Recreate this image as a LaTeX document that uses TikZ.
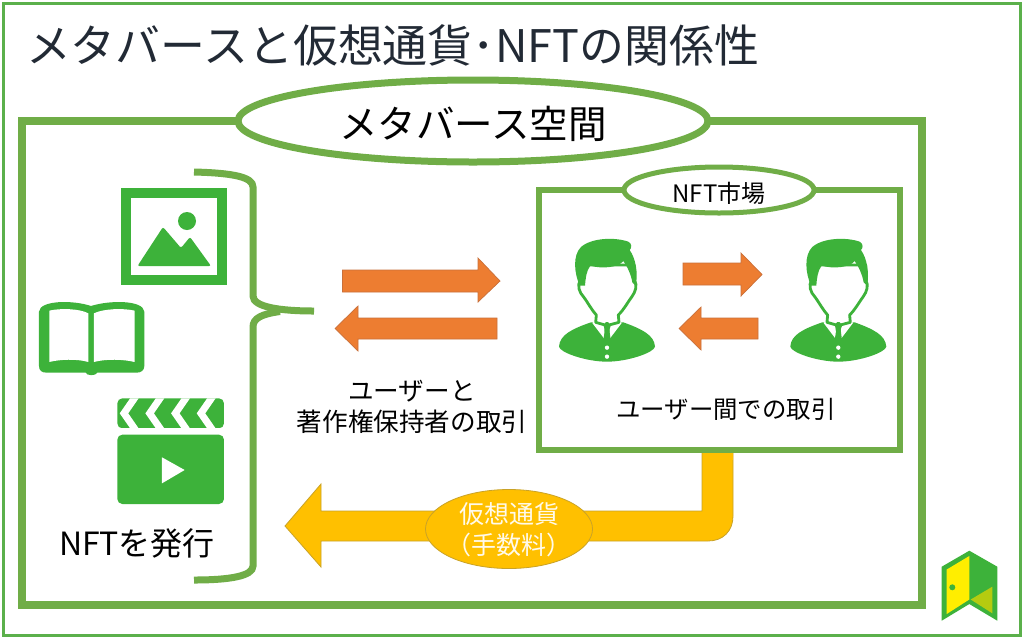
\documentclass[tikz,border=0pt]{standalone}
\usepackage{fontspec}
\setmainfont{Noto Sans CJK JP}
\usetikzlibrary{shapes.geometric}
\definecolor{frameg}{HTML}{70AD47}
\definecolor{outerg}{HTML}{5BB04B}
\definecolor{icong}{HTML}{3DB23A}
\definecolor{orangeA}{HTML}{ED7D31}
\definecolor{orangeB}{HTML}{C9703A}
\definecolor{goldA}{HTML}{FFC000}
\definecolor{goldB}{HTML}{C9A227}
\definecolor{inkA}{HTML}{222A35}
\definecolor{doorY}{HTML}{FFEE00}
\definecolor{doorO}{HTML}{B5CB10}
\tikzset{
  framebox/.style={draw=frameg,line width=#1,miter limit=10},
  ringnode/.style={ellipse,draw=frameg,fill=white,inner sep=0pt,text=black},
  blockarrow/.style={fill=orangeA,draw=orangeB,line width=.7pt,line join=miter},
  goldshape/.style={fill=goldA,draw=goldB,line width=.8pt},
  iconfill/.style={fill=icong,draw=none},
  paper/.style={fill=white,draw=none},
  txt/.style={inner sep=0pt,align=center,text=black},
}
\begin{document}
\begin{tikzpicture}[x=1pt,y=-1pt]
\useasboundingbox (0,0) rectangle (1024,638);
\fill[white] (0,0) rectangle (1024,638);
% outer frame
\draw[draw=outerg,line width=3pt] (3.5,3) rectangle (1020.5,635);
% title
\node[txt,anchor=center,text=inkA,font=\fontsize{44.9}{48}\selectfont] (title) at (392.5,45) {メタバースと仮想通貨･NFTの関係性};
% main frame
\draw[framebox=8pt] (22,121) rectangle (922,605);
\node[ringnode,line width=7pt,minimum width=470pt,minimum height=82pt] (metaring) at (473,121) {};
\node[txt,font=\fontsize{38.5}{42}\selectfont] (metalabel) at (473,124) {メタバース空間};
% brace
\draw[draw=frameg,line width=7pt] (194,172) .. controls (233,173) and (253,177) .. (253,187) -- (253,296) .. controls (253,307) and (280,311) .. (314,311);
\draw[draw=frameg,line width=7pt] (280,311.5) .. controls (262,314) and (253,318) .. (253,327) -- (253,566) .. controls (253,576) and (230,580) .. (194,580);
% picture icon
\draw[draw=icong,line width=10pt,fill=white] (126,193) rectangle (221.5,280);
\fill[iconfill] (187,221) circle (9pt);
\fill[iconfill,rounded corners=2pt] (137.5,266) -- (163,227) -- (181,248) -- (190,237) -- (211,266) -- cycle;
% book icon
\begin{scope}[shift={(20,160)},x=.3333pt,y=-.3333pt]
\fill[iconfill] (57,455) .. controls (60,420) and (160,420) .. (213,438) .. controls (270,420) and (370,420) .. (373,455) -- (373,618) .. controls (373,632) and (362,638) .. (350,638) -- (232,638) .. controls (228,648) and (200,648) .. (197,638) -- (80,638) .. controls (66,638) and (57,632) .. (57,618) -- cycle;
\fill[paper] (88,452) .. controls (120,444) and (180,446) .. (205,460) -- (205,606) .. controls (170,596) and (120,598) .. (88,606) -- cycle;
\fill[paper] (222,460) .. controls (250,446) and (310,444) .. (344,452) -- (344,606) .. controls (310,598) and (260,596) .. (222,606) -- cycle;
\end{scope}
% clapper icon
\begin{scope}[shift={(100,390)},x=.3333pt,y=-.3333pt]
\begin{scope}
\clip[rounded corners=5pt] (52,25) rectangle (372,115);
\fill[iconfill] (52,25) rectangle (372,115);
\foreach \cx in {72,149,226,303}
  \draw[draw=white,line width=7pt] (\cx+45,5) -- (\cx,70) -- (\cx+45,135);
\end{scope}
\fill[iconfill,rounded corners=5pt] (52,200) -- (52,134) -- (372,134) -- (372,342) -- (52,342) -- cycle;
\fill[paper] (186,202) -- (254,240) -- (186,280) -- cycle;
\end{scope}
\node[txt,font=\fontsize{32}{36}\selectfont] (issue) at (137,543) {NFTを発行};
% inner frame
\draw[framebox=6pt] (539,190) rectangle (900,449.5);
\node[ringnode,line width=5pt,minimum width=190pt,minimum height=46pt] (nftring) at (719,190) {};
\node[txt,font=\fontsize{24}{28}\selectfont] (nftlabel) at (719,193) {NFT市場};
% people
\foreach \sx in {555,786.3}{
\begin{scope}[shift={(\sx,235)},x=.3333pt,y=-.3333pt]
\fill[iconfill] (12,335) .. controls (14,300) and (50,282) .. (108,262) -- (205,262) .. controls (260,282) and (298,300) .. (300,335) .. controls (298,352) and (220,380) .. (156,380) .. controls (92,380) and (14,352) .. (12,335) -- cycle;
\fill[paper] (112,264) -- (150,314) -- (147,266) -- (124,250) -- cycle;
\fill[paper] (200,264) -- (162,314) -- (165,266) -- (188,250) -- cycle;
\fill[iconfill] (143,264) -- (170,264) -- (163,284) -- (168,322) -- (156,338) -- (144,322) -- (150,284) -- cycle;
\fill[paper] (156,338) circle (6.5);
\fill[paper] (156,365) circle (6.5);
\draw[draw=icong,line width=2.8pt,line join=round,fill=white] (76,135) .. controls (66,150) and (72,172) .. (86,186) .. controls (100,205) and (108,222) .. (124,240) -- (122,262) -- (150,270) -- (156,264) -- (162,270) -- (192,262) -- (190,240) .. controls (208,222) and (216,205) .. (230,186) .. controls (242,170) and (248,150) .. (238,135) -- (238,90) -- (90,90) -- cycle;
\fill[iconfill] (74,152) .. controls (58,115) and (52,62) .. (78,36) .. controls (110,8) and (180,6) .. (220,20) .. controls (232,26) and (230,40) .. (224,45) .. controls (242,70) and (250,115) .. (242,152) -- (232,142) .. controls (228,118) and (217,95) .. (205,78) .. controls (190,98) and (140,102) .. (106,92) .. controls (94,108) and (92,128) .. (90,152) -- cycle;
\end{scope}}
% orange arrows
\fill[blockarrow] (342.5,270) -- (478,270) -- (478,258) -- (500,281) -- (478,302) -- (478,292) -- (342.5,292) -- cycle;
\fill[blockarrow] (497,318) -- (358,318) -- (358,306) -- (335,328.5) -- (358,351) -- (358,339) -- (497,339) -- cycle;
\fill[blockarrow] (683,263) -- (741,263) -- (741,253) -- (762,274.5) -- (741,296) -- (741,285) -- (683,285) -- cycle;
\fill[blockarrow] (758,318) -- (701,318) -- (701,307) -- (679,328.5) -- (701,350) -- (701,339) -- (758,339) -- cycle;
\node[txt,font=\fontsize{25.6}{31}\selectfont] (usr1) at (412,406.5) {ユーザーと\\著作権保持者の取引};
\node[txt,font=\fontsize{24.4}{28}\selectfont] (usr2) at (726,409) {ユーザー間での取引};
% gold arrow
\draw[goldshape] (702,453) -- (702,511) -- (321,511) -- (321,484) -- (285,526) -- (321,567) -- (321,541) -- (708,541) .. controls (723,541) and (733,531) .. (733,516) -- (733,453);
\fill[goldA] (702.5,453) rectangle (732.5,460);
\node[ellipse,goldshape,inner sep=0pt,minimum width=167pt,minimum height=79pt] (fee) at (509,529) {};
\node[txt,text=white!92!goldA,font=\fontsize{25}{31}\selectfont] (feelabel) at (509,530) {仮想通貨\\（手数料）};
% logo
\fill[iconfill] (941.7,566.7) -- (969.3,550.7) -- (997.3,566.7) -- (997.3,620.7) -- (969.3,604) -- (941.7,620.7) -- cycle;
\fill[doorY] (946.7,569.5) -- (969.3,556) -- (969.3,599.5) -- (946.7,614) -- cycle;
\fill[icong] (952.3,587.3) circle (3pt);
\fill[doorO] (970.7,599.5) -- (992.3,586.7) -- (992.3,613.3) -- cycle;
\end{tikzpicture}
\end{document}
